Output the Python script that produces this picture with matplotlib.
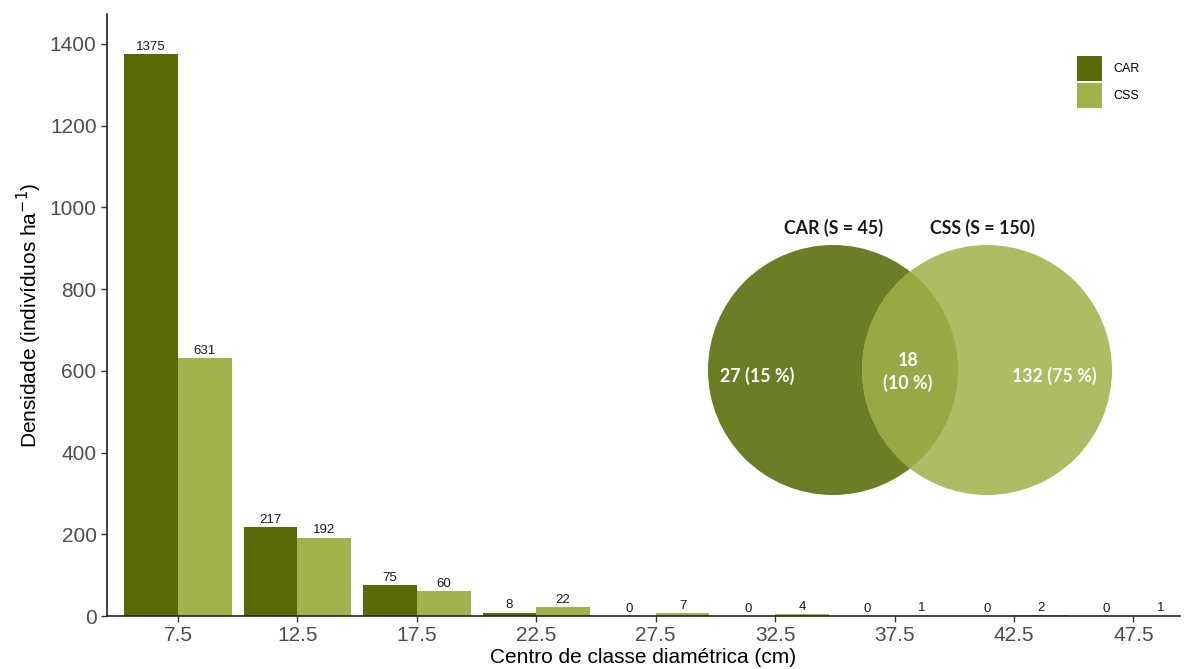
import numpy as np
import matplotlib.pyplot as plt
from matplotlib.patches import Circle

classes = ["7.5", "12.5", "17.5", "22.5", "27.5", "32.5", "37.5", "42.5", "47.5"]
car = [1375, 217, 75, 8, 0, 0, 0, 0, 0]
css = [631, 192, 60, 22, 7, 4, 1, 2, 1]

venn_titles = ["CAR (S = 45)", "CSS (S = 150)"]
venn_labels = ["27 (15 %)", "18\n(10 %)", "132 (75 %)"]

col_car = "#596A08"
col_css = "#A2B24C"

plt.rcParams['font.family'] = ['Liberation Sans', 'DejaVu Sans']

W, H = 1195, 669
fig = plt.figure(figsize=(W / 100, H / 100), dpi=100)
ax = fig.add_axes([107 / W, (H - 616) / H, (1180 - 107) / W, (616 - 14) / H])

x = np.arange(1, len(classes) + 1)
w = 0.45
b1 = ax.bar(x - w / 2, car, w, color=col_car, label="CAR")
b2 = ax.bar(x + w / 2, css, w, color=col_css, label="CSS")
ax.bar_label(b1, padding=1, fontsize=9.5, color="#1a1a1a")
ax.bar_label(b2, padding=1, fontsize=9.5, color="#1a1a1a")

ax.set_xlim(0.406, 9.39)
ax.set_ylim(0, 1473)
ax.set_xticks(x)
ax.set_xticklabels(classes)
ax.set_yticks(np.arange(0, 1401, 200))
ax.tick_params(axis="both", labelsize=15, labelcolor="#4D4D4D", color="#333333",
               length=4, width=1)
ax.spines["top"].set_visible(False)
ax.spines["right"].set_visible(False)
for s in ["left", "bottom"]:
    ax.spines[s].set_color("#222222")
    ax.spines[s].set_linewidth(1.2)

ax.set_xlabel("Centro de classe diamétrica (cm)", fontsize=15, labelpad=2)
ax.set_ylabel("Densidade (indivíduos ha$^{-1}$)", fontsize=15, labelpad=4)

ax.legend(loc="upper left", bbox_to_anchor=(1077 / W, 1 - 56 / H),
          bbox_transform=fig.transFigure, frameon=False, borderpad=0,
          borderaxespad=0, fontsize=9, handlelength=2.0, handleheight=2.7,
          labelspacing=0.15, handletextpad=0.9)

# Venn diagram in pixel coordinates
vax = fig.add_axes([0, 0, 1, 1])
vax.set_xlim(0, W)
vax.set_ylim(H, 0)
vax.axis("off")
r = 125
vax.add_patch(Circle((833, 370), r, color="#6B7E25", lw=0))
vax.add_patch(Circle((987, 370), r, color="#AEBC63", lw=0))
ov = Circle((987, 370), r, color="#97A945", lw=0)
vax.add_patch(ov)
ov.set_clip_path(Circle((833, 370), r, transform=vax.transData))

vfont = ['Lato', 'DejaVu Sans']
vax.text(834, 228, venn_titles[0], ha="center", va="center", fontsize=12.8,
         fontweight="bold", family=vfont, color="#1a1a1a")
vax.text(983, 228, venn_titles[1], ha="center", va="center", fontsize=12.8,
         fontweight="bold", family=vfont, color="#1a1a1a")
vax.text(757, 376, venn_labels[0], ha="center", va="center", fontsize=12.8,
         fontweight="bold", family=vfont, color="white")
vax.text(908, 372, venn_labels[1], ha="center", va="center", fontsize=12.8,
         fontweight="bold", family=vfont, color="white", linespacing=1.3)
vax.text(1054, 376, venn_labels[2], ha="center", va="center", fontsize=12.8,
         fontweight="bold", family=vfont, color="white")

fig.savefig("out.png", dpi=100)
